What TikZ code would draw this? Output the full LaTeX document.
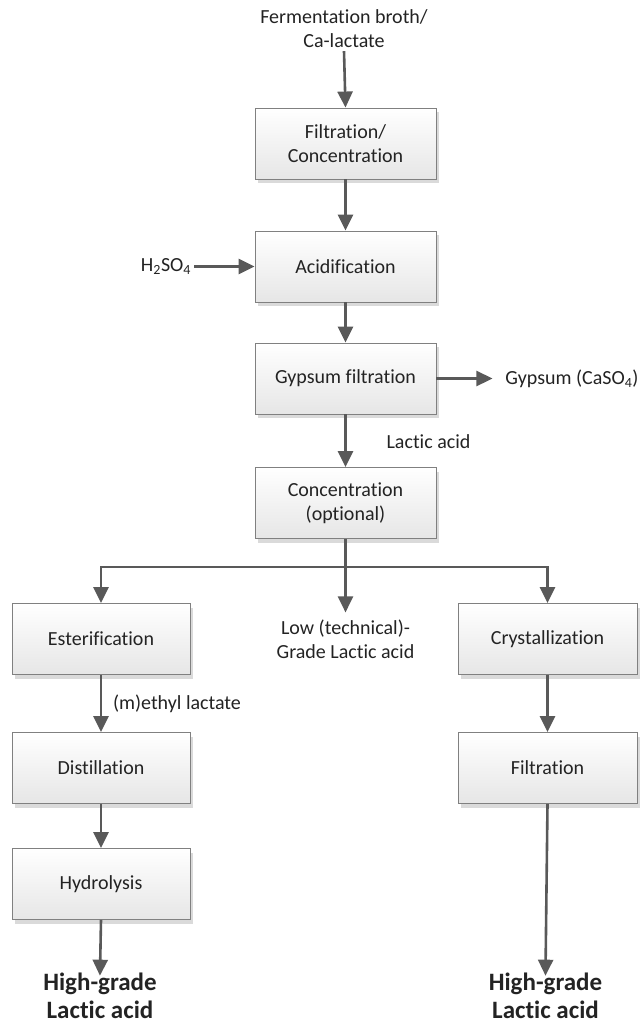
\documentclass[tikz,border=0pt]{standalone}
\usepackage{fontspec}
\setmainfont{Carlito}[Ligatures={NoCommon}]
\usetikzlibrary{arrows.meta,shadows,shadings}
\definecolor{arrc}{RGB}{89,89,89}
\definecolor{boxline}{RGB}{128,128,128}
\definecolor{txtc}{RGB}{35,35,35}
\definecolor{shadowc}{RGB}{218,218,218}
\definecolor{boxbot}{RGB}{230,230,230}
\tikzset{
  pbox/.style={draw=boxline, line width=0.9pt, top color=white, bottom color=boxbot,
    minimum height=71pt, inner sep=2pt, align=center, text=txtc,
    font=\fontsize{20}{24}\selectfont,
    drop shadow={shadow xshift=3pt, shadow yshift=-4pt, fill=shadowc, opacity=1}},
  cbox/.style={pbox, minimum width=181pt},
  sbox/.style={pbox, minimum width=178pt},
  lbl/.style={align=center, text=txtc, font=\fontsize{20}{24}\selectfont, inner sep=3pt},
  big/.style={align=center, text=txtc, font=\fontsize{25}{28.5}\selectfont\bfseries, inner sep=0pt},
  ln/.style={draw=arrc, line width=2.6pt},
  arr/.style={ln, -{Triangle[length=16pt,width=15pt]}}
}
\begin{document}
\begin{tikzpicture}[x=1pt,y=-1pt]
\useasboundingbox (0,0) rectangle (641,1025);
% source
\node[lbl] (src) at (344,29) {Fermentation broth/\\Ca-lactate};
% center column
\node[cbox] (f1) at (345.5,143.5) {Filtration/\\Concentration};
\node[cbox] (acid) at (345.5,266.5) {Acidification};
\node[cbox] (gyp) at (345.5,378.5) {Gypsum filtration};
\node[cbox] (conc) at (345.5,503) {Concentration\\(optional)};
% side inputs/outputs
\node[lbl] (h2so4) at (166,266.5) {H\textsubscript{2}SO\textsubscript{4}};
\node[lbl] (gypout) at (572,379) {Gypsum (CaSO\textsubscript{4})};
\node[lbl] (la) at (428.5,442) {Lactic acid};
% branches
\coordinate (br) at (345.5,567);
\node[lbl, inner ysep=7pt] (low) at (345.5,639) {Low (technical)-\\Grade Lactic acid};
\node[sbox] (est) at (101,639) {Esterification};
\node[sbox] (dist) at (101,768) {Distillation};
\node[sbox] (hyd) at (101,884) {Hydrolysis};
\node[sbox, minimum width=179pt] (cry) at (547.5,639) {Crystallization};
\node[sbox, minimum width=179pt] (filt) at (547.5,768) {Filtration};
\node[lbl] (me) at (177,704) {(m)ethyl lactate};
\node[big] (hgl) at (100,996) {High-grade\\Lactic acid};
\node[big] (hgr) at (545.5,996) {High-grade\\Lactic acid};
% connectors
\draw[arr] (src.south) -- (f1.north);
\draw[arr] (f1) -- (acid);
\draw[arr] (h2so4) -- (acid);
\draw[arr] (acid) -- (gyp);
\draw[arr] (gyp.east) -- ++(56,0) coordinate (gyptip);
\draw[arr] (gyp) -- (conc);
\draw[ln] (conc.south) -- (br);
\draw[arr] (br) -| (est.north);
\draw[arr] (br) -| (cry.north);
\draw[arr] (br) -- (low.north);
\draw[arr] (est) -- (dist);
\draw[arr] (dist) -- (hyd);
\draw[arr, shorten >=-3pt] (hyd.south) -- (hgl.north);
\draw[arr] (cry) -- (filt);
\draw[arr, shorten >=-3pt] (filt.south) -- (hgr.north);
\end{tikzpicture}
\end{document}
